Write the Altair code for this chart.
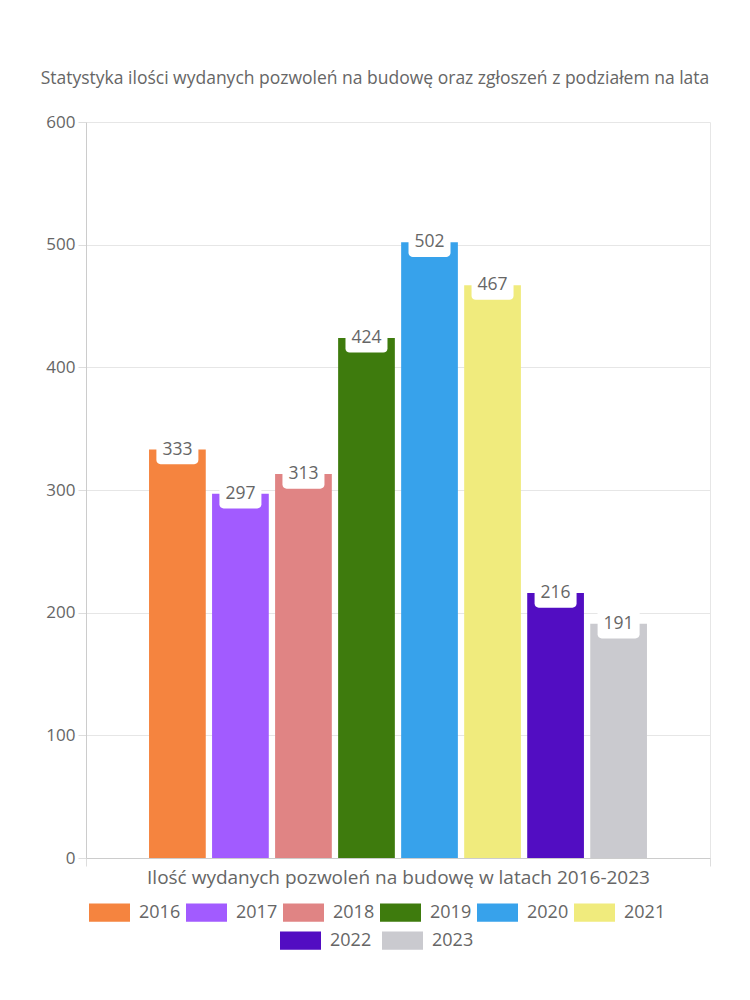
import altair as alt
import pandas as pd

lata = ["2016", "2017", "2018", "2019", "2020", "2021", "2022", "2023"]
wartosci = [333, 297, 313, 424, 502, 467, 216, 191]
kolory = ["#F5843F", "#A25BFF", "#E08484", "#3E7B0D", "#37A2EB", "#F0EB7D", "#520DC2", "#CACACF"]
kategoria = "Ilość wydanych pozwoleń na budowę w latach 2016-2023"
tytul = "Statystyka ilości wydanych pozwoleń na budowę oraz zgłoszeń z podziałem na lata"
y_ticks = [0, 100, 200, 300, 400, 500, 600]

df = pd.DataFrame({"rok": lata, "wartosc": wartosci, "kategoria": [kategoria] * len(lata)})

FONT = "Open Sans"
GREY = "#666666"

x_enc = alt.X(
    "kategoria:N",
    title=None,
    scale=alt.Scale(paddingInner=0, paddingOuter=0),
    axis=alt.Axis(
        tickBand="extent", grid=True, gridColor="#e6e6e6", ticks=True, tickSize=8,
        tickColor="#dddddd", domainColor="#cccccc", labelFontSize=19, labelColor=GREY,
        labelPadding=2, labelAngle=0, labelLimit=700,
    ),
)
xo_enc = alt.XOffset("rok:N", scale=alt.Scale(domain=lata, paddingInner=0.1, paddingOuter=1))
y_enc = alt.Y(
    "wartosc:Q",
    title=None,
    scale=alt.Scale(domain=[0, 600], nice=False),
    axis=alt.Axis(
        values=y_ticks, gridColor="#e6e6e6", tickSize=8, tickColor="#dddddd",
        domainColor="#cccccc", labelFontSize=17, labelColor=GREY, labelPadding=3,
    ),
)

base = alt.Chart(df)

legend_common = dict(
    orient="none", direction="horizontal", title=None, labelFontSize=18,
    labelColor=GREY, symbolType="M-1,-0.45H1V0.45H-1Z", symbolSize=1681,
    symbolStrokeWidth=0, labelOffset=9, padding=0,
)

bars_a = base.transform_filter(
    alt.FieldOneOfPredicate(field="rok", oneOf=lata[:6])
).mark_bar().encode(
    x=x_enc, xOffset=xo_enc, y=y_enc,
    color=alt.Color(
        "rok:N",
        scale=alt.Scale(domain=lata[:6], range=kolory[:6]),
        legend=alt.Legend(columns=6, legendX=3, legendY=770, columnPadding=5, **legend_common),
    ),
)

bars_b = base.transform_filter(
    alt.FieldOneOfPredicate(field="rok", oneOf=lata[6:])
).mark_bar().encode(
    x=x_enc, xOffset=xo_enc, y=y_enc,
    color=alt.Color(
        "rok:N",
        scale=alt.Scale(domain=lata[6:], range=kolory[6:]),
        legend=alt.Legend(columns=2, legendX=194, legendY=798, columnPadding=10, **legend_common),
    ),
)

box_path = ("M-0.8,-0.7H0.8A0.2,0.2 0 0 1 1,-0.5V0.5A0.2,0.2 0 0 1 0.8,0.7"
            "H-0.8A0.2,0.2 0 0 1 -1,0.5V-0.5A0.2,0.2 0 0 1 -0.8,-0.7Z")

boxes = base.mark_point(
    shape=box_path, size=1764, filled=True, color="white", opacity=1, strokeWidth=0
).encode(x=x_enc, xOffset=xo_enc, y=y_enc)

labels = base.mark_text(
    fontSize=17.5, color=GREY, baseline="middle", align="center", font=FONT
).encode(x=x_enc, xOffset=xo_enc, y=y_enc, text="wartosc:Q")

chart = alt.layer(bars_a, bars_b, boxes, labels).resolve_scale(
    color="independent"
).properties(
    width=624,
    height=736,
    autosize=alt.AutoSizeParams(type="none"),
    padding={"left": 86, "top": 122, "right": 40, "bottom": 142},
    title=alt.Title(
        tytul, fontSize=17.5, color=GREY, fontWeight="normal", font=FONT,
        anchor="middle", dx=-23, offset=26,
    ),
).configure(
    font=FONT,
).configure_view(
    stroke=None,
).configure_axis(
    labelFont=FONT,
).configure_legend(
    labelFont=FONT,
)

chart.save("out.html", embed_options={"renderer": "svg", "actions": False})
